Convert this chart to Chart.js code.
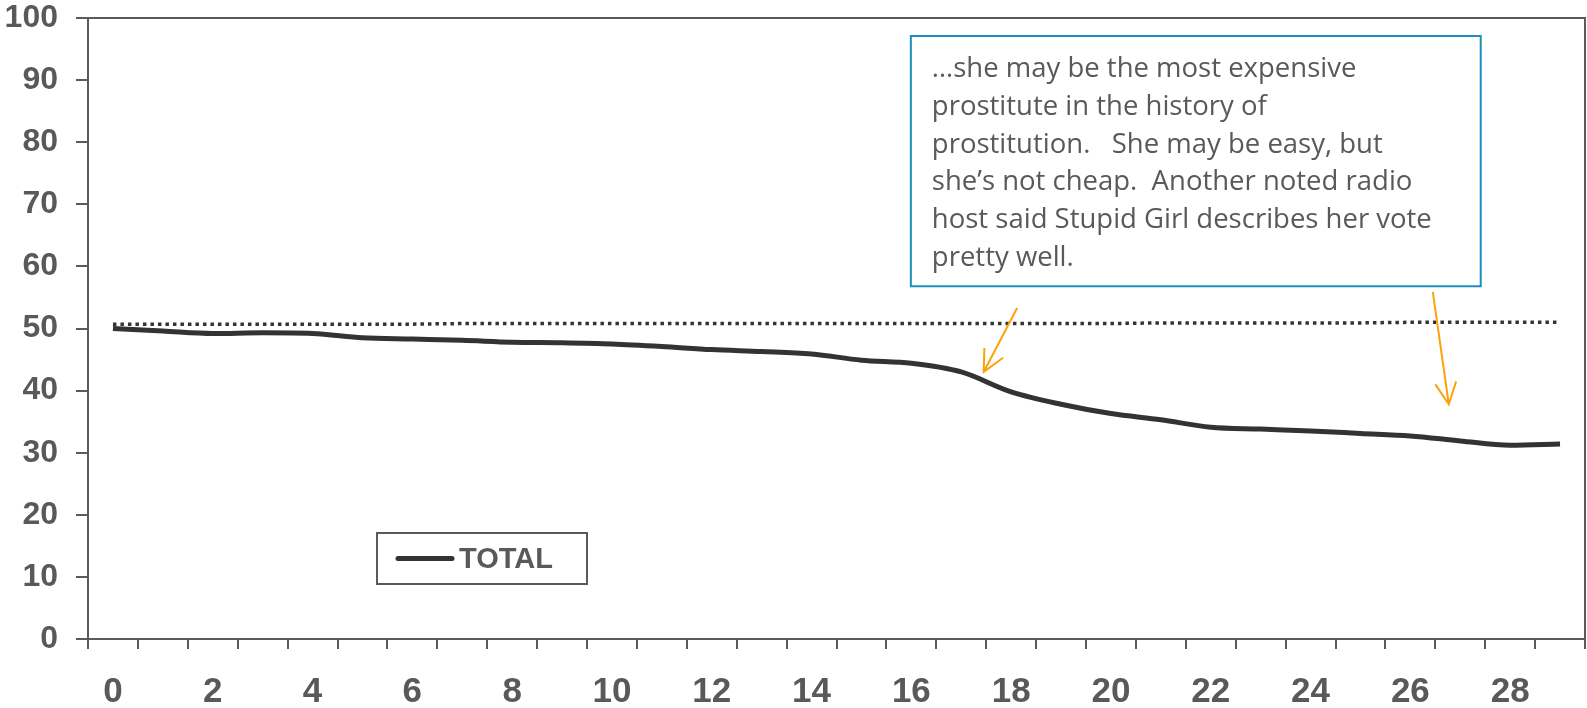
<!DOCTYPE html>
<html>
<head>
<meta charset="utf-8">
<script src="https://cdn.jsdelivr.net/npm/chart.js@4.4.1/dist/chart.umd.min.js"></script>
<style>
  html, body { margin: 0; padding: 0; background: #fff; }
  canvas { display: block; }
</style>
</head>
<body>
<canvas id="chart" width="1587" height="708"></canvas>
<script>
// datos
const categories = ['0','1','2','3','4','5','6','7','8','9','10','11','12','13','14',
                    '15','16','17','18','19','20','21','22','23','24','25','26','27','28','29'];
const xTickLabels = ['0','2','4','6','8','10','12','14','16','18','20','22','24','26','28'];
const yTickValues = [0, 10, 20, 30, 40, 50, 60, 70, 80, 90, 100];

const totalValues = [50.0, 49.6, 49.2, 49.3, 49.2, 48.5, 48.3, 48.1, 47.8, 47.7,
                     47.5, 47.1, 46.6, 46.3, 45.9, 44.9, 44.4, 43.0, 39.8, 37.8,
                     36.3, 35.3, 34.1, 33.8, 33.5, 33.1, 32.7, 31.9, 31.2, 31.4];
const refValues = [50.7, 50.7, 50.7, 50.7, 50.7, 50.7, 50.7, 50.8, 50.8, 50.8,
                   50.8, 50.8, 50.8, 50.8, 50.8, 50.8, 50.8, 50.8, 50.8, 50.8,
                   50.8, 50.9, 50.9, 50.9, 50.9, 50.9, 51.0, 51.0, 51.0, 51.0];

const noteLines = [
  '\u2026she may be the most expensive',
  'prostitute in the history of',
  'prostitution.   She may be easy, but',
  'she\u2019s not cheap.  Another noted radio',
  'host said Stupid Girl describes her vote',
  'pretty well.'
];

const AXIS_COLOR = '#5a5a5a';
const LINE_COLOR = '#333333';
const TEXT_COLOR = '#595959';

// caja de texto y flechas, en coordenadas de datos
const note = { x0: 15.99, x1: 27.41, y0: 97.1, y1: 56.8 };
const arrows = [
  { from: [18.12, 53.3], to: [17.45, 43.0] },
  { from: [26.45, 55.9], to: [26.77, 37.8] }
];

const annotationPlugin = {
  id: 'annotations',
  afterDraw(chart) {
    const ctx = chart.ctx;
    const xs = chart.scales.x, ys = chart.scales.y;
    const area = chart.chartArea;

    ctx.save();
    // borde superior y derecho del área
    ctx.strokeStyle = AXIS_COLOR;
    ctx.lineWidth = 2;
    ctx.beginPath();
    ctx.moveTo(area.left, area.top);
    ctx.lineTo(area.right, area.top);
    ctx.lineTo(area.right, area.bottom);
    ctx.stroke();

    // leyenda
    const ds = chart.data.datasets[0];
    const lx = area.left + 289, ly = area.top + 515, lw = 210, lh = 51;
    ctx.fillStyle = '#fff';
    ctx.fillRect(lx, ly, lw, lh);
    ctx.strokeStyle = AXIS_COLOR;
    ctx.lineWidth = 2;
    ctx.strokeRect(lx, ly, lw, lh);
    ctx.strokeStyle = ds.borderColor;
    ctx.lineWidth = 5;
    ctx.lineCap = 'round';
    ctx.beginPath();
    ctx.moveTo(lx + 21, ly + lh / 2);
    ctx.lineTo(lx + 75, ly + lh / 2);
    ctx.stroke();
    ctx.fillStyle = TEXT_COLOR;
    ctx.font = 'bold 29px "Liberation Sans", Arial, sans-serif';
    ctx.textBaseline = 'middle';
    ctx.fillText(ds.label, lx + 82, ly + lh / 2 + 1);

    // caja de comentario
    const bx0 = xs.getPixelForValue(note.x0), bx1 = xs.getPixelForValue(note.x1);
    const by0 = ys.getPixelForValue(note.y0), by1 = ys.getPixelForValue(note.y1);
    ctx.fillStyle = '#fff';
    ctx.fillRect(bx0, by0, bx1 - bx0, by1 - by0);
    ctx.strokeStyle = '#1f8cc0';
    ctx.lineWidth = 2;
    ctx.strokeRect(bx0, by0, bx1 - bx0, by1 - by0);
    ctx.fillStyle = TEXT_COLOR;
    ctx.font = '27.5px "Open Sans", Lato, sans-serif';
    ctx.textBaseline = 'alphabetic';
    noteLines.forEach((line, i) => {
      ctx.fillText(line, bx0 + 21, by0 + 41 + i * 37.8);
    });

    // flechas
    ctx.strokeStyle = '#ffa20a';
    ctx.lineWidth = 2;
    ctx.lineCap = 'butt';
    arrows.forEach(a => {
      const x1 = xs.getPixelForValue(a.from[0]), y1 = ys.getPixelForValue(a.from[1]);
      const x2 = xs.getPixelForValue(a.to[0]), y2 = ys.getPixelForValue(a.to[1]);
      const ang = Math.atan2(y1 - y2, x1 - x2);
      const head = 24, spread = 26 * Math.PI / 180;
      ctx.beginPath();
      ctx.moveTo(x1, y1);
      ctx.lineTo(x2, y2);
      ctx.moveTo(x2 + head * Math.cos(ang - spread), y2 + head * Math.sin(ang - spread));
      ctx.lineTo(x2, y2);
      ctx.lineTo(x2 + head * Math.cos(ang + spread), y2 + head * Math.sin(ang + spread));
      ctx.stroke();
    });
    ctx.restore();
  }
};

const chartRef = new Chart(document.getElementById('chart').getContext('2d'), {
  type: 'line',
  data: {
    labels: categories,
    datasets: [
      {
        label: 'TOTAL',
        data: totalValues,
        borderColor: LINE_COLOR,
        borderWidth: 5,
        pointRadius: 0,
        cubicInterpolationMode: 'monotone',
        fill: false
      },
      {
        label: 'ref',
        data: refValues,
        borderColor: LINE_COLOR,
        borderWidth: 3.5,
        borderDash: [3.5, 4],
        borderCapStyle: 'butt',
        pointRadius: 0,
        fill: false
      }
    ]
  },
  options: {
    responsive: false,
    animation: false,
    devicePixelRatio: 1,
    layout: { padding: { top: 18, right: 2, left: 0, bottom: 0 } },
    plugins: {
      legend: { display: false },
      tooltip: { enabled: false }
    },
    scales: {
      x: {
        type: 'category',
        offset: true,
        grid: {
          offset: true,
          drawOnChartArea: false,
          drawTicks: true,
          tickLength: 10,
          color: AXIS_COLOR,
          lineWidth: 2
        },
        border: { display: true, color: AXIS_COLOR, width: 2 },
        ticks: {
          autoSkip: false,
          maxRotation: 0,
          padding: 22,
          color: TEXT_COLOR,
          font: { family: '"Liberation Sans", Arial, sans-serif', size: 35, weight: 'bold' },
          callback: function(value, index) {
            const lbl = this.getLabelForValue(value);
            return xTickLabels.includes(lbl) ? lbl : '';
          }
        },
        afterFit: (scale) => {
          scale.height = 69;
          scale.paddingLeft = 0;
          scale.paddingRight = 0;
        }
      },
      y: {
        min: 0,
        max: 100,
        grid: {
          drawOnChartArea: false,
          tickLength: 12,
          color: AXIS_COLOR,
          lineWidth: 2
        },
        border: { display: true, color: AXIS_COLOR, width: 2 },
        afterBuildTicks: (scale) => { scale.ticks = yTickValues.map(v => ({ value: v })); },
        ticks: {
          padding: 18,
          color: TEXT_COLOR,
          font: { family: '"Liberation Sans", Arial, sans-serif', size: 32, weight: 'bold' }
        },
        afterFit: (scale) => {
          scale.width = 88;
          scale.paddingTop = 0;
          scale.paddingBottom = 0;
        }
      }
    }
  },
  plugins: [annotationPlugin]
});
</script>
</body>
</html>
